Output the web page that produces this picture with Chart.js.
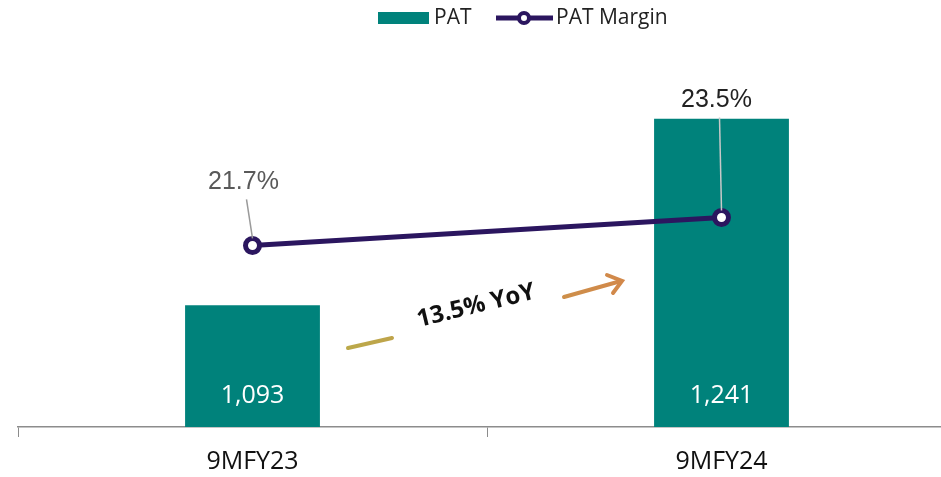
<!DOCTYPE html>
<html>
<head>
<meta charset="utf-8">
<script src="https://cdn.jsdelivr.net/npm/chart.js@4.4.0/dist/chart.umd.min.js"></script>
<style>
  html, body { margin: 0; padding: 0; background: #fff; overflow: hidden; }
  #wrap { width: 941px; height: 477px; overflow: hidden; position: relative; }
  canvas { display: block; }
</style>
</head>
<body>
<div id="wrap"><canvas id="chart" width="968" height="487"></canvas></div>
<script>
  const categories = ['9MFY23', '9MFY24'];
  const patValues = [1093, 1241];
  const patLabels = ['1,093', '1,241'];
  const marginValues = [21.7, 23.5];
  const marginLabels = ['21.7%', '23.5%'];
  const yoyText = '13.5% YoY';

  const TEAL = '#00827b';
  const NAVY = '#2b165f';

  // legend drawn by hand: bar swatch + line-with-circle swatch
  const legendPlugin = {
    id: 'customLegend',
    afterDraw(chart) {
      const ctx = chart.ctx;
      ctx.save();
      ctx.fillStyle = TEAL;
      ctx.fillRect(378, 12, 51, 12);
      ctx.font = '21px "Open Sans", "Liberation Sans", sans-serif';
      ctx.textBaseline = 'middle';
      ctx.fillStyle = '#222';
      ctx.fillText('PAT', 434, 18);
      ctx.strokeStyle = NAVY;
      ctx.lineWidth = 5;
      ctx.beginPath(); ctx.moveTo(496, 18); ctx.lineTo(553, 18); ctx.stroke();
      ctx.beginPath(); ctx.arc(524, 18, 5, 0, Math.PI * 2);
      ctx.fillStyle = '#fff'; ctx.fill(); ctx.lineWidth = 4; ctx.stroke();
      ctx.fillStyle = '#222';
      ctx.fillText('PAT Margin', 556, 18);
      ctx.restore();
    }
  };

  const labelsPlugin = {
    id: 'valueLabels',
    afterDatasetsDraw(chart) {
      const ctx = chart.ctx;
      ctx.save();
      // bar values inside bottom of bars
      const bars = chart.getDatasetMeta(1).data;
      ctx.font = '25px "Open Sans", "Liberation Sans", sans-serif';
      ctx.fillStyle = '#fff';
      ctx.textAlign = 'center';
      ctx.textBaseline = 'middle';
      bars.forEach((b, i) => ctx.fillText(patLabels[i], b.x, chart.chartArea.bottom - 31));
      ctx.restore();
    },
    afterDraw(chart) {
      const ctx = chart.ctx;
      const pts = chart.getDatasetMeta(0).data;
      ctx.save();
      ctx.font = '25px "Liberation Sans", Arial, sans-serif';
      ctx.textAlign = 'center';
      ctx.textBaseline = 'middle';
      const off = [{ dx: -9, dy: -63 }, { dx: -5, dy: -117 }];
      pts.forEach((p, i) => {
        const lx = p.x + off[i].dx, ly = p.y + off[i].dy;
        ctx.strokeStyle = i === 0 ? '#9a9a9a' : '#c8c8c8';
        ctx.lineWidth = 1.5;
        ctx.beginPath(); ctx.moveTo(lx + 3, ly + 17); ctx.lineTo(p.x, p.y - 7); ctx.stroke();
        ctx.fillStyle = i === 0 ? '#595959' : '#222';
        ctx.fillText(marginLabels[i], lx, ly);
      });

      // YoY growth arrow
      const grad = ctx.createLinearGradient(348, 0, 622, 0);
      grad.addColorStop(0, '#bba94a');
      grad.addColorStop(1, '#d2884a');
      ctx.strokeStyle = grad;
      ctx.lineWidth = 4;
      ctx.lineCap = 'round';
      ctx.beginPath(); ctx.moveTo(348, 348); ctx.lineTo(392, 338); ctx.stroke();
      ctx.beginPath(); ctx.moveTo(564, 297); ctx.lineTo(621, 281); ctx.stroke();
      ctx.beginPath(); ctx.moveTo(607, 275); ctx.lineTo(622, 281); ctx.lineTo(613, 293); ctx.stroke();

      ctx.translate(476, 306);
      ctx.rotate(-0.24);
      ctx.font = 'bold 24px "Open Sans", "Liberation Sans", sans-serif';
      ctx.fillStyle = '#111';
      ctx.fillText(yoyText, 0, 0);
      ctx.restore();
    }
  };

  new Chart(document.getElementById('chart'), {
    data: {
      labels: categories,
      datasets: [
        {
          type: 'line', label: 'PAT Margin', data: marginValues, yAxisID: 'y1',
          borderColor: NAVY, borderWidth: 5, pointRadius: 7, pointBorderWidth: 5,
          pointBackgroundColor: '#fff', pointBorderColor: NAVY, order: 0
        },
        {
          type: 'bar', label: 'PAT', data: patValues, yAxisID: 'y',
          backgroundColor: TEAL, barPercentage: 0.575, categoryPercentage: 0.5, order: 1
        }
      ]
    },
    options: {
      responsive: false, animation: false,
      layout: { padding: { top: 45, left: 18, right: 0, bottom: 0 } },
      plugins: { legend: { display: false }, tooltip: { enabled: false } },
      scales: {
        x: {
          grid: { display: true, offset: true, drawOnChartArea: false, drawTicks: true, tickLength: 10, color: '#8c8c8c' },
          border: { display: true, color: '#8c8c8c', width: 1.5 },
          ticks: { color: '#111', padding: 10, font: { size: 25, family: '"Liberation Sans Narrow", "Open Sans", sans-serif' } }
        },
        y: { display: false, min: 996.5, max: 1299.5 },
        y1: { display: false, min: 10, max: 34.62 }
      }
    },
    plugins: [legendPlugin, labelsPlugin]
  });
</script>
</body>
</html>
